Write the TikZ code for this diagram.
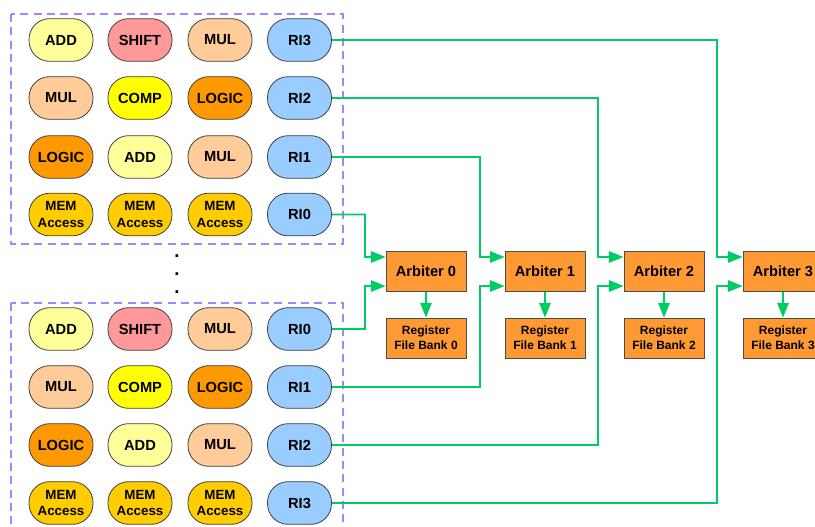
\documentclass[tikz,border=0pt]{standalone}
\usepackage{fontspec}
\setmainfont{Liberation Sans}
\usetikzlibrary{arrows.meta}

\definecolor{addc}{HTML}{FFFF99}
\definecolor{shiftc}{HTML}{FF9999}
\definecolor{mulc}{HTML}{FFCC99}
\definecolor{compc}{HTML}{FFFF00}
\definecolor{logicc}{HTML}{FF9900}
\definecolor{memc}{HTML}{FFCC00}
\definecolor{ric}{HTML}{99CCFF}
\definecolor{arbc}{HTML}{FF9933}
\definecolor{busc}{HTML}{00CC66}
\definecolor{boxc}{HTML}{A585FF}

\begin{document}
\begin{tikzpicture}[x=0.75pt,y=-0.75pt]
    \tikzstyle{unit}=[draw=black!75,line width=0.6pt,rectangle,rounded corners=15.5pt,minimum width=48pt,minimum height=32pt,inner sep=0pt,align=center,font=\fontsize{11}{12}\selectfont\bfseries]
    \tikzstyle{mem}=[unit,fill=memc,font=\fontsize{10}{12.5}\selectfont\bfseries]
    \tikzstyle{arb}=[draw=black!70,line width=0.6pt,fill=arbc,minimum width=60pt,minimum height=29.5pt,inner sep=0pt,font=\fontsize{11}{12}\selectfont\bfseries]
    \tikzstyle{bank}=[arb,minimum height=30pt,align=center,font=\fontsize{9}{11.25}\selectfont\bfseries]
    \tikzstyle{bus}=[draw=busc,line width=1.3pt,-{Triangle[length=11pt,width=8.5pt]}]
    \tikzstyle{group}=[draw=boxc,line width=1.1pt,dash pattern=on 6pt off 4pt]

    \useasboundingbox (0,0) rectangle (815,526);
    \clip (0,0) rectangle (815,526);

    % upper group
    \draw[group] (11,14) rectangle (343,244);
    \node[unit,fill=addc](u11) at (61,40){ADD};
    \node[unit,fill=shiftc](u12) at (140,40){SHIFT};
    \node[unit,fill=mulc](u13) at (220,40){MUL};
    \node[unit,fill=ric](ritop3) at (299.5,40){RI3};
    \node[unit,fill=mulc](u21) at (61,98){MUL};
    \node[unit,fill=compc](u22) at (140,98){COMP};
    \node[unit,fill=logicc](u23) at (220,98){LOGIC};
    \node[unit,fill=ric](ritop2) at (299.5,98){RI2};
    \node[unit,fill=logicc](u31) at (61,157){LOGIC};
    \node[unit,fill=addc](u32) at (140,157){ADD};
    \node[unit,fill=mulc](u33) at (220,157){MUL};
    \node[unit,fill=ric](ritop1) at (299.5,157){RI1};
    \node[mem](u41) at (61,214.5){MEM\\Access};
    \node[mem](u42) at (140,214.5){MEM\\Access};
    \node[mem](u43) at (220,214.5){MEM\\Access};
    \node[unit,fill=ric](ritop0) at (299.5,214.5){RI0};

    \node[align=center,inner sep=0pt,font=\fontsize{14}{13.5}\selectfont\bfseries](dots) at (177,274){.\\.\\.};

    % lower group
    \draw[group] (11,303) rectangle (343,560);
    \node[unit,fill=addc](l11) at (61,329){ADD};
    \node[unit,fill=shiftc](l12) at (140,329){SHIFT};
    \node[unit,fill=mulc](l13) at (220,329){MUL};
    \node[unit,fill=ric](ribot0) at (299.5,329){RI0};
    \node[unit,fill=mulc](l21) at (61,387){MUL};
    \node[unit,fill=compc](l22) at (140,387){COMP};
    \node[unit,fill=logicc](l23) at (220,387){LOGIC};
    \node[unit,fill=ric](ribot1) at (299.5,387){RI1};
    \node[unit,fill=logicc](l31) at (61,445){LOGIC};
    \node[unit,fill=addc](l32) at (140,445){ADD};
    \node[unit,fill=mulc](l33) at (220,445){MUL};
    \node[unit,fill=ric](ribot2) at (299.5,445){RI2};
    \node[mem](l41) at (61,503){MEM\\Access};
    \node[mem](l42) at (140,503){MEM\\Access};
    \node[mem](l43) at (220,503){MEM\\Access};
    \node[unit,fill=ric](ribot3) at (299.5,503){RI3};

    % arbiters and register file banks
    \node[arb](arb0) at (426,271.5){Arbiter 0};
    \node[arb](arb1) at (545,271.5){Arbiter 1};
    \node[arb](arb2) at (664,271.5){Arbiter 2};
    \node[arb](arb3) at (783,271.5){Arbiter 3};
    \node[bank](rf0) at (426,338){Register\\File Bank 0};
    \node[bank](rf1) at (545,338){Register\\File Bank 1};
    \node[bank](rf2) at (664,338){Register\\File Bank 2};
    \node[bank](rf3) at (783,338){Register\\File Bank 3};

    \draw[bus] (arb0) -- (rf0);
    \draw[bus] (arb1) -- (rf1);
    \draw[bus] (arb2) -- (rf2);
    \draw[bus] (arb3) -- (rf3);

    \draw[bus] (ritop0) -| (365,257) -- ([yshift=10.9pt]arb0.west);
    \draw[bus] (ritop1) -| (480,257) -- ([yshift=10.9pt]arb1.west);
    \draw[bus] (ritop2) -| (598,257) -- ([yshift=10.9pt]arb2.west);
    \draw[bus] (ritop3) -| (717,257) -- ([yshift=10.9pt]arb3.west);
    \draw[bus] (ribot0) -| (365,286) -- ([yshift=-10.9pt]arb0.west);
    \draw[bus] (ribot1) -| (480,286) -- ([yshift=-10.9pt]arb1.west);
    \draw[bus] (ribot2) -| (598,286) -- ([yshift=-10.9pt]arb2.west);
    \draw[bus] (ribot3) -| (717,286) -- ([yshift=-10.9pt]arb3.west);
  \end{tikzpicture}
\end{document}
